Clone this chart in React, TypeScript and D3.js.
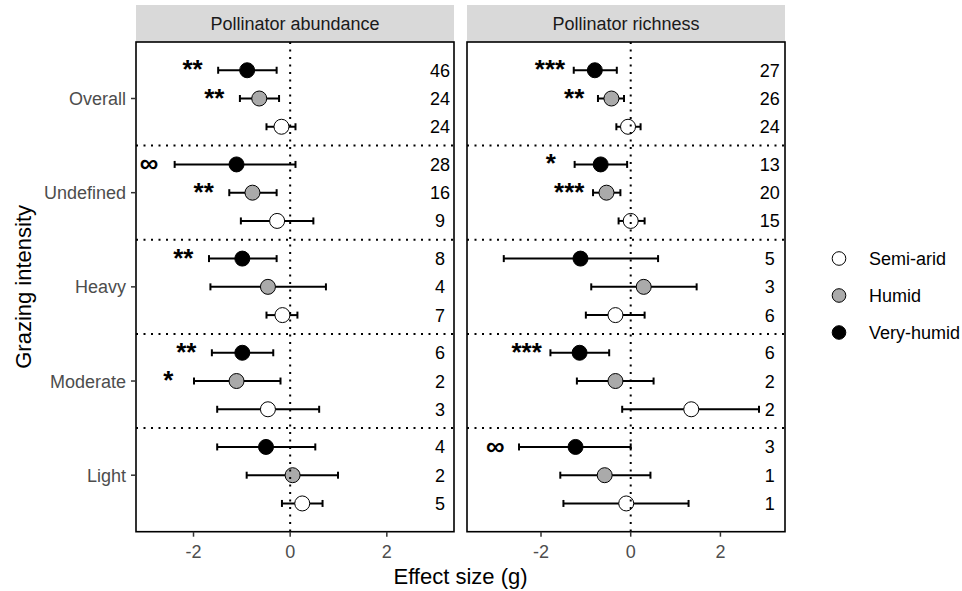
import { useEffect, useRef } from "react";
import * as d3 from "d3";

const groups = ["Overall", "Undefined", "Heavy", "Moderate", "Light"];
const climates = ["Very-humid", "Humid", "Semi-arid"];
const legendOrder = ["Semi-arid", "Humid", "Very-humid"];
const xTicks = [-2, 0, 2];

// rows: groups x climates (Very-humid, Humid, Semi-arid)
const abundanceMean = [-0.89, -0.64, -0.18, -1.11, -0.78, -0.27, -0.99, -0.46, -0.16, -0.99, -1.11, -0.46, -0.5, 0.05, 0.25];
const abundanceLower = [-1.49, -1.04, -0.49, -2.39, -1.26, -1.02, -1.68, -1.65, -0.49, -1.62, -1.99, -1.51, -1.51, -0.9, -0.17];
const abundanceUpper = [-0.28, -0.23, 0.11, 0.11, -0.28, 0.48, -0.28, 0.74, 0.15, -0.35, -0.2, 0.6, 0.52, 0.99, 0.67];
const abundanceN = [46, 24, 24, 28, 16, 9, 8, 4, 7, 6, 2, 3, 4, 2, 5];
const abundanceSig = ["**", "**", "", "∞", "**", "", "**", "", "", "**", "*", "", "", "", ""];

const richnessMean = [-0.8, -0.43, -0.06, -0.67, -0.54, 0.0, -1.12, 0.29, -0.34, -1.14, -0.34, 1.35, -1.23, -0.58, -0.1];
const richnessLower = [-1.27, -0.73, -0.32, -1.25, -0.84, -0.27, -2.83, -0.88, -1.0, -1.79, -1.2, -0.19, -2.49, -1.57, -1.5];
const richnessUpper = [-0.31, -0.15, 0.22, -0.08, -0.23, 0.31, 0.61, 1.47, 0.31, -0.48, 0.51, 2.86, 0.0, 0.44, 1.29];
const richnessN = [27, 26, 24, 13, 20, 15, 5, 3, 6, 6, 2, 2, 3, 1, 1];
const richnessSig = ["***", "**", "", "*", "***", "", "", "", "", "***", "", "", "∞", "", ""];

const fillOf: Record<string, string> = { "Semi-arid": "#ffffff", Humid: "#aaaaaa", "Very-humid": "#000000" };
const FONT = "'Liberation Sans', Arial, sans-serif";

const App = () => {
  const ref = useRef<SVGSVGElement>(null);

  useEffect(() => {
    const el = ref.current;
    if (!el) return;
    const svg = d3.select(el);
    svg.selectAll("*").remove();

    const top = 42, bottom = 531.7;
    const y = d3.scalePoint<string>().domain(groups).range([top, bottom]).padding(0.6);
    const step = y.step();
    const dodge = d3.scalePoint<string>().domain(climates).range([-0.3 * step, 0.3 * step]);

    const panels = [
      { title: "Pollinator abundance", left: 136, right: 454, domain: [-3.19, 3.39], mean: abundanceMean, lo: abundanceLower, hi: abundanceUpper, n: abundanceN, sig: abundanceSig },
      { title: "Pollinator richness", left: 467, right: 785, domain: [-3.65, 3.44], mean: richnessMean, lo: richnessLower, hi: richnessUpper, n: richnessN, sig: richnessSig },
    ];

    const rows = groups.flatMap(g => climates.map(c => ({ g, c })));

    panels.forEach((p, pi) => {
      const x = d3.scaleLinear().domain(p.domain).range([p.left, p.right]);
      const g = svg.append("g");

      // strip
      g.append("rect")
        .attr("x", p.left).attr("y", 5)
        .attr("width", p.right - p.left).attr("height", top - 5)
        .attr("fill", "#d9d9d9");
      g.append("text")
        .attr("x", (p.left + p.right) / 2).attr("y", 30)
        .attr("text-anchor", "middle")
        .style("font-family", FONT).style("font-size", "18px").style("fill", "#1a1a1a")
        .text(p.title);

      // panel background
      g.append("rect")
        .attr("x", p.left).attr("y", top)
        .attr("width", p.right - p.left).attr("height", bottom - top)
        .attr("fill", "#fff");

      // group separators
      groups.slice(0, -1).forEach(gr => {
        const yy = (y(gr) as number) + step / 2;
        g.append("line")
          .attr("x1", p.left).attr("x2", p.right).attr("y1", yy).attr("y2", yy)
          .attr("stroke", "#000").attr("stroke-width", 2)
          .attr("stroke-dasharray", "2,5.5");
      });

      const rowY = (i: number) => (y(rows[i].g) as number) + (dodge(rows[i].c) as number);

      // error bars
      rows.forEach((_, i) => {
        const yy = rowY(i);
        const x0 = x(p.lo[i]), x1 = x(p.hi[i]);
        g.append("line").attr("x1", x0).attr("x2", x1).attr("y1", yy).attr("y2", yy)
          .attr("stroke", "#000").attr("stroke-width", 2);
        [x0, x1].forEach(xc => {
          g.append("line").attr("x1", xc).attr("x2", xc).attr("y1", yy - 3.5).attr("y2", yy + 3.5)
            .attr("stroke", "#000").attr("stroke-width", 2);
        });
      });

      // points
      rows.forEach((r, i) => {
        g.append("circle")
          .attr("cx", x(p.mean[i])).attr("cy", rowY(i)).attr("r", 7.5)
          .attr("fill", fillOf[r.c]).attr("stroke", "#000").attr("stroke-width", 1);
      });

      // zero line
      g.append("line")
        .attr("x1", x(0)).attr("x2", x(0)).attr("y1", top).attr("y2", bottom)
        .attr("stroke", "#000").attr("stroke-width", 2)
        .attr("stroke-dasharray", "2,5.5");

      // significance labels
      rows.forEach((_, i) => {
        if (!p.sig[i]) return;
        g.append("text")
          .attr("x", x(p.lo[i] - 0.53)).attr("y", rowY(i) + 8)
          .attr("text-anchor", "middle")
          .style("font-family", FONT).style("font-size", "26px").style("font-weight", "bold").style("fill", "#000")
          .text(p.sig[i]);
      });

      // sample sizes
      rows.forEach((_, i) => {
        g.append("text")
          .attr("x", x(3.1)).attr("y", rowY(i) + 6.5)
          .attr("text-anchor", "middle")
          .style("font-family", FONT).style("font-size", "18px").style("fill", "#000")
          .text(p.n[i]);
      });

      // border
      g.append("rect")
        .attr("x", p.left).attr("y", top)
        .attr("width", p.right - p.left).attr("height", bottom - top)
        .attr("fill", "none").attr("stroke", "#000").attr("stroke-width", 1.6);

      // x axis
      xTicks.forEach(t => {
        g.append("line").attr("x1", x(t)).attr("x2", x(t)).attr("y1", bottom).attr("y2", bottom + 5)
          .attr("stroke", "#333").attr("stroke-width", 1.5);
        g.append("text")
          .attr("x", x(t)).attr("y", bottom + 26)
          .attr("text-anchor", "middle")
          .style("font-family", FONT).style("font-size", "18px").style("fill", "#4d4d4d")
          .text(t < 0 ? `-${Math.abs(t)}` : `${t}`);
      });

      // y axis (first panel only)
      if (pi === 0) {
        groups.forEach(gr => {
          const yy = y(gr) as number;
          g.append("line").attr("x1", p.left - 5).attr("x2", p.left).attr("y1", yy).attr("y2", yy)
            .attr("stroke", "#333").attr("stroke-width", 1.5);
          g.append("text")
            .attr("x", p.left - 10).attr("y", yy + 6.5)
            .attr("text-anchor", "end")
            .style("font-family", FONT).style("font-size", "18px").style("fill", "#4d4d4d")
            .text(gr);
        });
      }
    });

    // axis titles
    svg.append("text")
      .attr("x", (136 + 785) / 2).attr("y", 584)
      .attr("text-anchor", "middle")
      .style("font-family", FONT).style("font-size", "22px").style("fill", "#000")
      .text("Effect size (g)");
    svg.append("text")
      .attr("transform", `translate(31,${(top + bottom) / 2}) rotate(-90)`)
      .attr("text-anchor", "middle")
      .style("font-family", FONT).style("font-size", "22px").style("fill", "#000")
      .text("Grazing intensity");

    // legend
    legendOrder.forEach((c, i) => {
      const ly = 258.5 + i * 37;
      svg.append("circle")
        .attr("cx", 839).attr("cy", ly).attr("r", 6.8)
        .attr("fill", fillOf[c]).attr("stroke", "#000").attr("stroke-width", 1);
      svg.append("text")
        .attr("x", 869).attr("y", ly + 6.5)
        .style("font-family", FONT).style("font-size", "18px").style("fill", "#000")
        .text(c);
    });

    return () => { d3.select(el).selectAll("*").remove(); };
  }, []);

  return (
    <svg
      ref={ref}
      width={962}
      height={591}
      style={{ position: "absolute", left: 0, top: 0, background: "#fff", display: "block" }}
    />
  );
};

export default App;
